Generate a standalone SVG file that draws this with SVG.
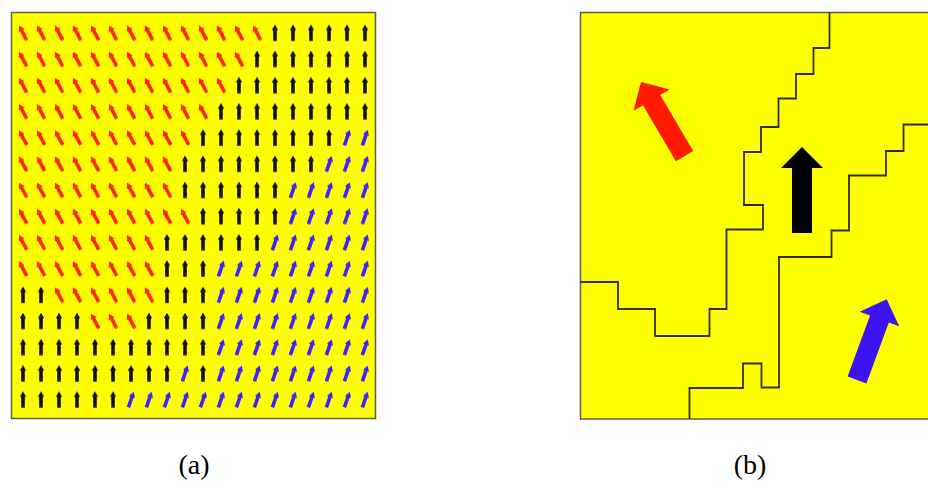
<svg xmlns="http://www.w3.org/2000/svg" xmlns:xlink="http://www.w3.org/1999/xlink" width="928" height="492" viewBox="0 0 928 492">
<style>
.panel{fill:#ffff00;stroke:#5e5e40;stroke-width:1.5}
.wall{fill:none;stroke:#2e2e10;stroke-width:1.8;stroke-linejoin:miter}
.lbl{font-family:"Liberation Serif","Times New Roman",serif;font-size:28px;fill:#000;text-anchor:middle}
</style>
<defs>
<polygon id="ar" points="-1.8,8 1.8,8 1.8,-3 3.2,-3 0,-8.5 -3.2,-3 -1.8,-3"/>
<polygon id="big" points="0,0 21,21 10,21 10,86 -10,86 -10,21 -21,21"/>
<pattern id="pr" patternUnits="userSpaceOnUse" x="14" y="19.9" width="18" height="26.2">
<use xlink:href="#ar" href="#ar" transform="translate(9,13.1) rotate(-28)" fill="#ff2400"/>
</pattern>
<pattern id="pk" patternUnits="userSpaceOnUse" x="14" y="19.9" width="18" height="26.2">
<use xlink:href="#ar" href="#ar" transform="translate(9,13.1)" fill="#111"/>
</pattern>
<pattern id="pb" patternUnits="userSpaceOnUse" x="14" y="19.9" width="18" height="26.2">
<use xlink:href="#ar" href="#ar" transform="translate(9,13.1) rotate(19)" fill="#4020ff"/>
</pattern>
</defs>
<rect width="928" height="492" fill="#fff"/>

<g id="panel-a">
<rect class="panel" x="11.5" y="12.5" width="364" height="406"/>
<g id="red-field" fill="url(#pr)">
<rect x="14" y="19.9" width="252" height="26.2"/>
<rect x="14" y="46.1" width="234" height="26.2"/>
<rect x="14" y="72.3" width="216" height="26.2"/>
<rect x="14" y="98.5" width="198" height="26.2"/>
<rect x="14" y="124.7" width="180" height="26.2"/>
<rect x="14" y="150.9" width="162" height="26.2"/>
<rect x="14" y="177.1" width="162" height="26.2"/>
<rect x="14" y="203.3" width="180" height="26.2"/>
<rect x="14" y="229.5" width="144" height="26.2"/>
<rect x="14" y="255.7" width="144" height="26.2"/>
<rect x="50" y="281.9" width="108" height="26.2"/>
<rect x="86" y="308.1" width="54" height="26.2"/>
</g>
<g id="black-field" fill="url(#pk)">
<rect x="266" y="19.9" width="108" height="26.2"/>
<rect x="248" y="46.1" width="126" height="26.2"/>
<rect x="230" y="72.3" width="144" height="26.2"/>
<rect x="212" y="98.5" width="162" height="26.2"/>
<rect x="194" y="124.7" width="144" height="26.2"/>
<rect x="176" y="150.9" width="144" height="26.2"/>
<rect x="176" y="177.1" width="108" height="26.2"/>
<rect x="194" y="203.3" width="90" height="26.2"/>
<rect x="158" y="229.5" width="108" height="26.2"/>
<rect x="158" y="255.7" width="54" height="26.2"/>
<rect x="14" y="281.9" width="36" height="26.2"/>
<rect x="158" y="281.9" width="54" height="26.2"/>
<rect x="14" y="308.1" width="72" height="26.2"/>
<rect x="140" y="308.1" width="72" height="26.2"/>
<rect x="14" y="334.3" width="198" height="26.2"/>
<rect x="14" y="360.5" width="162" height="26.2"/>
<rect x="194" y="360.5" width="18" height="26.2"/>
<rect x="14" y="386.7" width="108" height="26.2"/>
</g>
<g id="blue-field" fill="url(#pb)">
<rect x="338" y="124.7" width="36" height="26.2"/>
<rect x="320" y="150.9" width="54" height="26.2"/>
<rect x="284" y="177.1" width="90" height="26.2"/>
<rect x="284" y="203.3" width="90" height="26.2"/>
<rect x="266" y="229.5" width="108" height="26.2"/>
<rect x="212" y="255.7" width="162" height="26.2"/>
<rect x="212" y="281.9" width="162" height="26.2"/>
<rect x="212" y="308.1" width="162" height="26.2"/>
<rect x="212" y="334.3" width="162" height="26.2"/>
<rect x="176" y="360.5" width="18" height="26.2"/>
<rect x="212" y="360.5" width="162" height="26.2"/>
<rect x="122" y="386.7" width="252" height="26.2"/>
</g>
</g>

<g id="panel-b">
<rect class="panel" x="580.5" y="12.5" width="360" height="406.5"/>
<g id="boundaries">
<path class="wall" d="M829.5,12.5 V48 H813.5 V74 H796 V98.5 H778.5 V127 H761 V152 H744 V205 H763 V229.5 H726.5 V309 H709.5 V336 H655 V309 H618 V282 H580.5"/>
<path class="wall" d="M928,124.5 H903.5 V151 H886 V175.5 H849 V230.5 H831.5 V257 H779 V387.5 H761.5 V363.5 H743 V388 H689.5 V419"/>
</g>
<use id="arrow-red" xlink:href="#big" href="#big" transform="translate(641,82) rotate(-30.4)" fill="#ff1a00"/>
<use id="arrow-black" xlink:href="#big" href="#big" transform="translate(802,147)" fill="#000"/>
<use id="arrow-blue" xlink:href="#big" href="#big" transform="translate(886.7,299.3) rotate(20.2)" fill="#3d12f5"/>
</g>

<text class="lbl" x="194" y="474">(a)</text>
<text class="lbl" x="750" y="474">(b)</text>
</svg>
